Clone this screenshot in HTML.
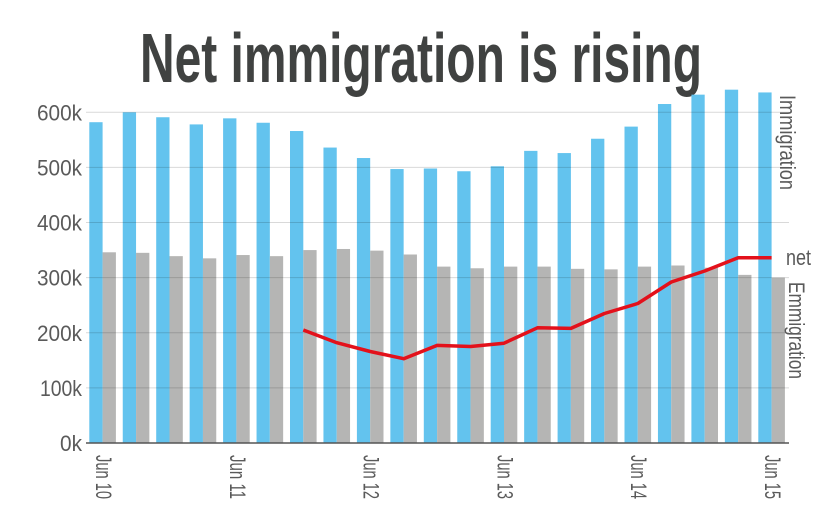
<!DOCTYPE html>
<html><head><meta charset="utf-8"><style>
html,body{margin:0;padding:0;background:#fff;}
svg{display:block;font-family:"Liberation Sans",sans-serif;}
</style></head><body>
<svg id="s" width="839" height="525" viewBox="0 0 839 525" xmlns="http://www.w3.org/2000/svg">
<text x="421" y="82" text-anchor="middle" font-size="70" font-weight="bold" fill="#404241" textLength="562" lengthAdjust="spacingAndGlyphs">Net immigration is rising</text>
<g id="bars"></g>
<g id="gl"></g>
<line x1="86" y1="443" x2="789" y2="443" stroke="#555" stroke-width="1.5"/>
<polyline id="net" fill="none" stroke="#e3111b" stroke-width="3.5" stroke-linejoin="round"/>
<g id="lab" font-size="22" fill="#5a5a5a"></g>
</svg>
<script>
var NS="http://www.w3.org/2000/svg";
function el(t,a,p,txt){var e=document.createElementNS(NS,t);for(var k in a)e.setAttribute(k,a[k]);if(txt)e.textContent=txt;document.getElementById(p).appendChild(e);return e;}
var base=443,sc=0.5512;
function Y(v){return base-v*sc;}
var imm=[582,600,591,578,589,581,566,536,517,497,498,493,502,530,526,552,574,615,632,641,636];
var emi=[346,345,339,335,341,339,350,352,349,342,320,317,320,320,316,315,320,322,318,305,300];
var net=[205,182,166,153,177,175,181,209,208,235,253,292,312,336,336];
for(var i=0;i<21;i++){
 var x=89.3+33.45*i;
 el('rect',{x:x,y:Y(imm[i]),width:13.3,height:base-Y(imm[i]),fill:'#63c3ee'},'bars');
 el('rect',{x:x+13.3,y:Y(emi[i]),width:13.3,height:base-Y(emi[i]),fill:'#b5b5b4'},'bars');
}
var lab=['0k','100k','200k','300k','400k','500k','600k'];
for(var j=0;j<7;j++){
 var y=Y(j*100);
 if(j>0){el('line',{x1:86,y1:y,x2:789,y2:y,stroke:'#000','stroke-width':1,'stroke-opacity':0.15},'gl');}
 el('text',{x:82,y:y+8,'text-anchor':'end',textLength:j==0?22:(j==1?42:45),lengthAdjust:'spacingAndGlyphs'},'lab',lab[j]);
}
var pts=[];
for(var k=0;k<net.length;k++){pts.push((89.3+33.45*(k+6)+13.3).toFixed(1)+','+Y(net[k]).toFixed(1));}
document.getElementById('net').setAttribute('points',pts.join(' '));
var xl=['Jun 10','Jun 11','Jun 12','Jun 13','Jun 14','Jun 15'];
for(var m=0;m<6;m++){
 var cx=96+133.8*m;
 el('text',{x:0,y:0,transform:'translate('+cx+',455) rotate(90)',textLength:44,lengthAdjust:'spacingAndGlyphs'},'lab',xl[m]);
}
el('text',{x:0,y:0,transform:'translate(780,95) rotate(90)',textLength:95,lengthAdjust:'spacingAndGlyphs'},'lab','Immigration');
el('text',{x:786,y:265,textLength:25,lengthAdjust:'spacingAndGlyphs'},'lab','net');
el('text',{x:0,y:0,transform:'translate(789,282) rotate(90)',textLength:97,lengthAdjust:'spacingAndGlyphs'},'lab','Emmigration');
</script>
</body></html>
